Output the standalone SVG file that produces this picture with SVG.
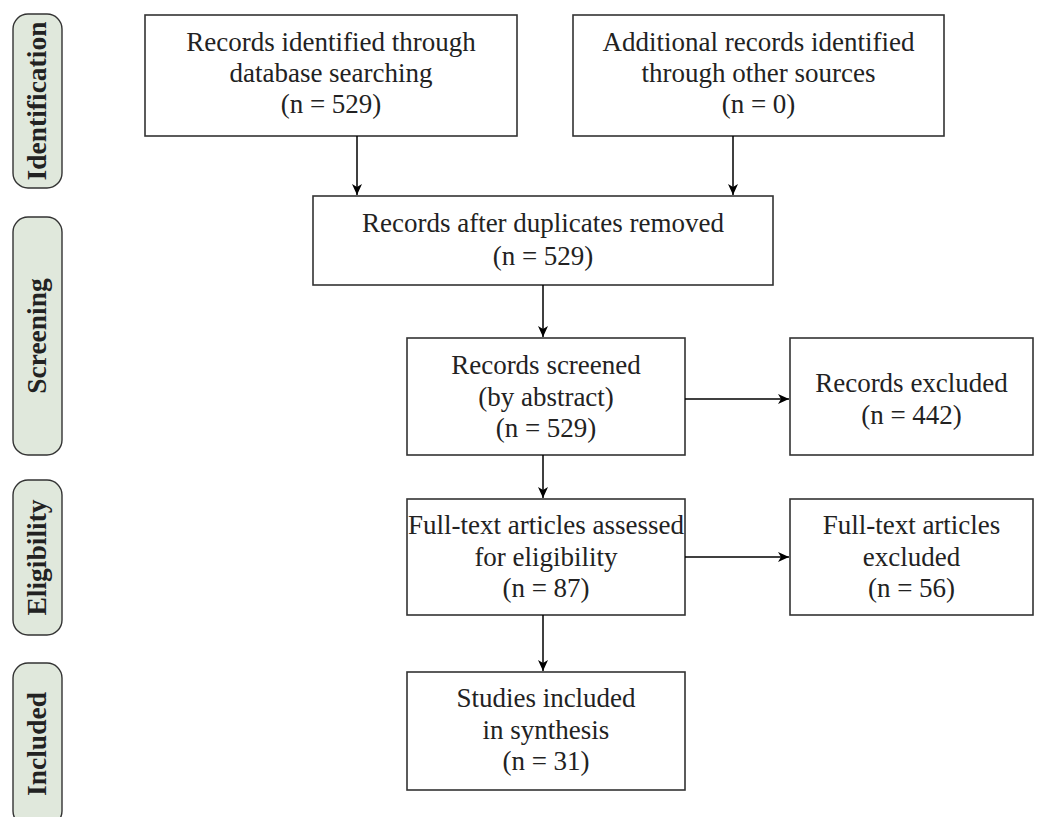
<svg xmlns="http://www.w3.org/2000/svg" width="1057" height="817" viewBox="0 0 1057 817">
<style>
.box{fill:#fff;stroke:#333;stroke-width:1.6}
.t{font-family:"Liberation Serif","Times New Roman",serif;font-size:27px;fill:#222;text-anchor:middle}
.phase{fill:#e0e8dc;stroke:#333;stroke-width:1.4}
.pt{font-family:"Liberation Serif","Times New Roman",serif;font-size:27.5px;font-weight:bold;fill:#222;text-anchor:middle}
.c{stroke:#000;stroke-width:1.5;fill:none;marker-end:url(#ah)}
</style>
<defs>
<marker id="ah" markerUnits="userSpaceOnUse" markerWidth="12" markerHeight="10" refX="11" refY="5" orient="auto">
<path d="M0,0 L11,5 L0,10 L3,5 Z" fill="#000"/>
</marker>
</defs>
<rect width="1057" height="817" fill="#fff"/>
<g id="phase-identification">
<rect class="phase" x="13" y="14" width="49" height="174" rx="15"/>
<text class="pt" transform="translate(46,101) rotate(-90)">Identification</text>
</g>
<g id="phase-screening">
<rect class="phase" x="13" y="217" width="49" height="238" rx="15"/>
<text class="pt" transform="translate(46,336) rotate(-90)">Screening</text>
</g>
<g id="phase-eligibility">
<rect class="phase" x="13" y="480" width="49" height="155" rx="15"/>
<text class="pt" transform="translate(46,557.5) rotate(-90)">Eligibility</text>
</g>
<g id="phase-included">
<rect class="phase" x="13" y="663" width="49" height="163" rx="15"/>
<text class="pt" transform="translate(46,744) rotate(-90)">Included</text>
</g>
<g id="n-db">
<rect class="box" x="145" y="15" width="372" height="121"/>
<text class="t" x="331" y="51">Records identified through</text>
<text class="t" x="331" y="82">database searching</text>
<text class="t" x="331" y="113">(n = 529)</text>
</g>
<g id="n-other">
<rect class="box" x="573" y="15" width="371" height="121"/>
<text class="t" x="758.5" y="51">Additional records identified</text>
<text class="t" x="758.5" y="82">through other sources</text>
<text class="t" x="758.5" y="113">(n = 0)</text>
</g>
<g id="n-dup">
<rect class="box" x="313" y="196" width="460" height="89"/>
<text class="t" x="543" y="232">Records after duplicates removed</text>
<text class="t" x="543" y="265">(n = 529)</text>
</g>
<g id="n-screened">
<rect class="box" x="407" y="338" width="278" height="117"/>
<text class="t" x="546" y="374">Records screened</text>
<text class="t" x="546" y="406">(by abstract)</text>
<text class="t" x="546" y="437">(n = 529)</text>
</g>
<g id="n-excl">
<rect class="box" x="790" y="338" width="243" height="117"/>
<text class="t" x="911.5" y="392">Records excluded</text>
<text class="t" x="911.5" y="424">(n = 442)</text>
</g>
<g id="n-fulltext">
<rect class="box" x="407" y="499" width="278" height="116"/>
<text class="t" x="546" y="534">Full-text articles assessed</text>
<text class="t" x="546" y="566">for eligibility</text>
<text class="t" x="546" y="597">(n = 87)</text>
</g>
<g id="n-ftexcl">
<rect class="box" x="790" y="499" width="243" height="116"/>
<text class="t" x="911.5" y="534">Full-text articles</text>
<text class="t" x="911.5" y="566">excluded</text>
<text class="t" x="911.5" y="597">(n = 56)</text>
</g>
<g id="n-included">
<rect class="box" x="407" y="672" width="278" height="118"/>
<text class="t" x="546" y="707">Studies included</text>
<text class="t" x="546" y="739">in synthesis</text>
<text class="t" x="546" y="770">(n = 31)</text>
</g>
<g id="connectors">
<line class="c" x1="357" y1="136" x2="357" y2="195"/>
<line class="c" x1="733" y1="136" x2="733" y2="195"/>
<line class="c" x1="543" y1="285" x2="543" y2="337"/>
<line class="c" x1="685" y1="399" x2="789" y2="399"/>
<line class="c" x1="543" y1="455" x2="543" y2="498"/>
<line class="c" x1="685" y1="557" x2="789" y2="557"/>
<line class="c" x1="543" y1="615" x2="543" y2="671"/>
</g>
</svg>
